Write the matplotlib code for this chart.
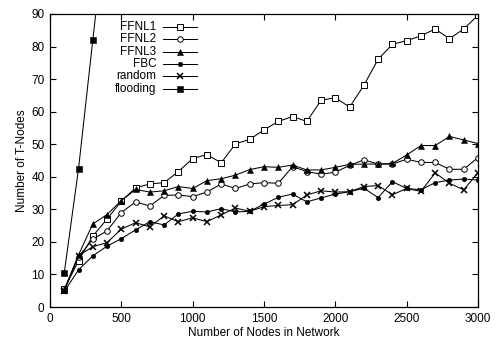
import matplotlib
matplotlib.use("Agg")
import matplotlib.pyplot as plt
from matplotlib.lines import Line2D

plt.rcParams.update({"font.family": ["Liberation Sans", "DejaVu Sans"],
                     "font.size": 8.5})

nodes = list(range(100, 3100, 100))

ffnl1 = [5.5, 14.2, 21.8, 27.0, 32.5, 36.6, 37.8, 38.2, 41.6, 45.6,
         46.8, 44.3, 50.1, 51.5, 54.4, 57.0, 58.5, 57.0, 63.5, 64.3,
         61.4, 68.1, 76.1, 80.7, 81.8, 83.3, 85.4, 82.4, 85.4, 89.6]
ffnl2 = [5.2, 15.5, 20.8, 23.4, 29.0, 32.3, 31.0, 34.3, 34.4, 33.9,
         35.3, 37.8, 36.4, 37.8, 38.2, 38.0, 43.1, 41.6, 40.8, 41.4,
         43.5, 45.2, 43.9, 43.9, 45.4, 44.4, 44.4, 42.3, 42.3, 45.9]
ffnl3 = [5.3, 16.0, 25.5, 28.4, 32.7, 36.1, 35.3, 35.7, 37.0, 36.4,
         38.8, 39.4, 40.5, 42.2, 43.1, 42.9, 43.6, 42.1, 42.1, 42.9,
         43.8, 43.9, 43.9, 44.1, 46.7, 49.6, 49.6, 52.4, 51.3, 50.2]
fbc = [4.8, 11.4, 15.7, 18.7, 21.0, 23.7, 26.2, 25.2, 28.6, 29.4,
       29.2, 30.2, 29.2, 29.4, 31.6, 33.7, 34.7, 32.3, 33.5, 34.7,
       35.4, 36.5, 33.6, 38.5, 36.4, 36.0, 38.2, 39.0, 39.3, 39.0]
rnd = [5.0, 15.8, 18.5, 19.8, 23.9, 25.9, 24.6, 28.0, 26.2, 27.4,
       26.2, 28.3, 30.4, 29.4, 30.8, 31.2, 31.4, 34.4, 35.7, 35.3,
       35.4, 37.0, 37.3, 34.5, 36.4, 35.5, 41.2, 38.0, 36.0, 41.3]
flood_nodes = [100, 200, 300, 400]
flooding = [10.5, 42.5, 82.0, 121.0]

labels = ["FFNL1", "FFNL2", "FFNL3", "FBC", "random", "flooding"]

styles = [
    dict(marker="s", ms=4.0, mfc="white", mec="black", mew=0.7),
    dict(marker="o", ms=4.0, mfc="white", mec="black", mew=0.7),
    dict(marker="^", ms=4.2, mfc="black", mec="black", mew=0.4),
    dict(marker="o", ms=3.2, mfc="black", mec="black", mew=0.4),
    dict(marker="x", ms=3.8, mfc="black", mec="black", mew=1.1),
    dict(marker="s", ms=4.5, mfc="black", mec="black", mew=0.4),
]

fig = plt.figure(figsize=(4.96, 3.45), dpi=100)
ax = fig.add_axes([50 / 496, 38 / 345, 428 / 496, 293 / 345])

series = [(nodes, ffnl1), (nodes, ffnl2), (nodes, ffnl3),
          (nodes, fbc), (nodes, rnd), (flood_nodes, flooding)]
for (xs, ys), st in zip(series, styles):
    ax.plot(xs, ys, color="black", lw=0.75, **st)

ax.set_xlim(0, 3000)
ax.set_ylim(0, 90)
ax.set_xticks(range(0, 3001, 500))
ax.set_yticks(range(0, 91, 10))
ax.tick_params(direction="in", top=True, right=True, length=4, width=0.8,
               labelsize=8.5, pad=4)
for s in ax.spines.values():
    s.set_linewidth(0.9)
ax.set_xlabel("Number of Nodes in Network", fontsize=8.5, labelpad=2)
ax.set_ylabel("Number of T-Nodes", fontsize=8.5, labelpad=2)

# legend, gnuplot style: label right-aligned, sample to the right
rows = [0.957, 0.914, 0.871, 0.829, 0.787, 0.745]
for lab, st, yy in zip(labels, styles, rows):
    ax.text(0.248, yy, lab, ha="right", va="center", fontsize=8.5,
            transform=ax.transAxes)
    ax.add_line(Line2D([0.264, 0.304, 0.344], [yy, yy, yy], color="black",
                       lw=0.75, markevery=[1], transform=ax.transAxes,
                       clip_on=False, **st))

fig.savefig("out.png", dpi=100)
